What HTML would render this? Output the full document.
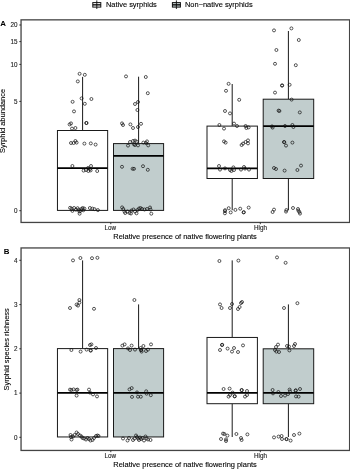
<!DOCTYPE html>
<html><head><meta charset="utf-8"><title>Figure</title>
<style>html,body{margin:0;padding:0;background:#fff}svg{display:block}</style></head>
<body>
<svg width="350" height="469" viewBox="0 0 350 469" font-family="'Liberation Sans', sans-serif">
<rect width="350" height="469" fill="#fff"/>
<line x1="82.6" y1="76.9" x2="82.6" y2="130.5" stroke="#1a1a1a" stroke-width="1"/><rect x="57.45" y="130.50" width="50.20" height="79.90" fill="#fff" stroke="#1a1a1a" stroke-width="1"/><line x1="57.45" y1="168.15" x2="107.65" y2="168.15" stroke="#000" stroke-width="1.8"/>
<line x1="138.6" y1="76.7" x2="138.6" y2="143.6" stroke="#1a1a1a" stroke-width="1"/><rect x="113.50" y="143.60" width="50.10" height="66.80" fill="#C1CDCD" stroke="#1a1a1a" stroke-width="1"/><line x1="113.50" y1="155.90" x2="163.60" y2="155.90" stroke="#000" stroke-width="1.8"/>
<line x1="232.2" y1="84.0" x2="232.2" y2="126.1" stroke="#1a1a1a" stroke-width="1"/><line x1="232.2" y1="178.5" x2="232.2" y2="210.2" stroke="#1a1a1a" stroke-width="1"/><rect x="207.00" y="126.10" width="50.40" height="52.40" fill="#fff" stroke="#1a1a1a" stroke-width="1"/><line x1="207.00" y1="168.30" x2="257.40" y2="168.30" stroke="#000" stroke-width="1.8"/>
<line x1="288.4" y1="31.0" x2="288.4" y2="99.2" stroke="#1a1a1a" stroke-width="1"/><line x1="288.4" y1="178.5" x2="288.4" y2="210.2" stroke="#1a1a1a" stroke-width="1"/><rect x="263.20" y="99.20" width="50.50" height="79.30" fill="#C1CDCD" stroke="#1a1a1a" stroke-width="1"/><line x1="263.20" y1="126.10" x2="313.70" y2="126.10" stroke="#000" stroke-width="1.8"/>
<g fill="none" stroke="#111" stroke-width="0.7"><circle cx="79.6" cy="73.8" r="1.5"/><circle cx="84.8" cy="74.8" r="1.5"/><circle cx="77.8" cy="81.4" r="1.5"/><circle cx="81.6" cy="98.4" r="1.5"/><circle cx="91.4" cy="99.0" r="1.5"/><circle cx="72.6" cy="101.8" r="1.5"/><circle cx="84.8" cy="103.8" r="1.5"/><circle cx="74.0" cy="111.4" r="1.5"/><circle cx="86.4" cy="123.0" r="1.5"/><circle cx="71.0" cy="123.4" r="1.5"/><circle cx="69.6" cy="124.4" r="1.5"/><circle cx="86.4" cy="123.0" r="1.5"/><circle cx="75.4" cy="128.0" r="1.5"/><circle cx="72.0" cy="128.6" r="1.5"/><circle cx="71.0" cy="143.0" r="1.5"/><circle cx="73.6" cy="143.0" r="1.5"/><circle cx="75.4" cy="141.0" r="1.5"/><circle cx="76.6" cy="142.6" r="1.5"/><circle cx="84.4" cy="143.6" r="1.5"/><circle cx="90.8" cy="143.4" r="1.5"/><circle cx="95.6" cy="144.6" r="1.5"/><circle cx="72.4" cy="166.0" r="1.5"/><circle cx="91.0" cy="166.0" r="1.5"/><circle cx="88.0" cy="168.0" r="1.5"/><circle cx="90.0" cy="169.0" r="1.5"/><circle cx="83.6" cy="170.6" r="1.5"/><circle cx="86.0" cy="170.0" r="1.5"/><circle cx="88.4" cy="171.0" r="1.5"/><circle cx="90.6" cy="170.4" r="1.5"/><circle cx="97.2" cy="171.0" r="1.5"/><circle cx="70.1" cy="207.8" r="1.5"/><circle cx="71.6" cy="208.6" r="1.5"/><circle cx="72.4" cy="210.9" r="1.5"/><circle cx="74.1" cy="208.0" r="1.5"/><circle cx="75.9" cy="209.7" r="1.5"/><circle cx="77.6" cy="208.2" r="1.5"/><circle cx="78.7" cy="209.7" r="1.5"/><circle cx="79.3" cy="211.4" r="1.5"/><circle cx="79.6" cy="213.7" r="1.5"/><circle cx="80.4" cy="210.9" r="1.5"/><circle cx="81.6" cy="208.9" r="1.5"/><circle cx="82.7" cy="208.0" r="1.5"/><circle cx="83.3" cy="210.3" r="1.5"/><circle cx="84.4" cy="208.6" r="1.5"/><circle cx="89.9" cy="208.0" r="1.5"/><circle cx="92.4" cy="208.6" r="1.5"/><circle cx="94.5" cy="209.1" r="1.5"/><circle cx="97.9" cy="210.1" r="1.5"/></g>
<g fill="none" stroke="#111" stroke-width="0.7"><circle cx="126.0" cy="76.4" r="1.5"/><circle cx="145.8" cy="77.0" r="1.5"/><circle cx="147.8" cy="93.2" r="1.5"/><circle cx="138.0" cy="102.0" r="1.5"/><circle cx="135.0" cy="104.0" r="1.5"/><circle cx="137.4" cy="110.0" r="1.5"/><circle cx="122.0" cy="123.4" r="1.5"/><circle cx="123.0" cy="125.0" r="1.5"/><circle cx="130.4" cy="124.4" r="1.5"/><circle cx="141.0" cy="123.8" r="1.5"/><circle cx="138.0" cy="127.0" r="1.5"/><circle cx="133.0" cy="128.0" r="1.5"/><circle cx="130.0" cy="142.0" r="1.5"/><circle cx="133.0" cy="141.0" r="1.5"/><circle cx="135.0" cy="140.6" r="1.5"/><circle cx="136.6" cy="141.6" r="1.5"/><circle cx="128.0" cy="145.6" r="1.5"/><circle cx="134.0" cy="144.4" r="1.5"/><circle cx="135.0" cy="145.0" r="1.5"/><circle cx="138.0" cy="145.4" r="1.5"/><circle cx="143.4" cy="142.6" r="1.5"/><circle cx="147.0" cy="141.4" r="1.5"/><circle cx="148.2" cy="145.4" r="1.5"/><circle cx="146.0" cy="143.0" r="1.5"/><circle cx="122.0" cy="166.8" r="1.5"/><circle cx="132.6" cy="168.8" r="1.5"/><circle cx="134.0" cy="168.8" r="1.5"/><circle cx="143.0" cy="166.2" r="1.5"/><circle cx="147.8" cy="169.8" r="1.5"/><circle cx="122.1" cy="207.4" r="1.5"/><circle cx="123.3" cy="209.0" r="1.5"/><circle cx="124.5" cy="211.5" r="1.5"/><circle cx="125.2" cy="213.0" r="1.5"/><circle cx="127.5" cy="211.5" r="1.5"/><circle cx="129.5" cy="213.0" r="1.5"/><circle cx="131.0" cy="213.5" r="1.5"/><circle cx="131.5" cy="210.5" r="1.5"/><circle cx="133.5" cy="209.5" r="1.5"/><circle cx="135.0" cy="211.5" r="1.5"/><circle cx="136.5" cy="213.3" r="1.5"/><circle cx="137.5" cy="210.0" r="1.5"/><circle cx="139.0" cy="208.5" r="1.5"/><circle cx="140.5" cy="208.0" r="1.5"/><circle cx="142.0" cy="209.0" r="1.5"/><circle cx="144.5" cy="209.5" r="1.5"/><circle cx="147.0" cy="209.0" r="1.5"/><circle cx="150.0" cy="207.5" r="1.5"/><circle cx="150.5" cy="209.5" r="1.5"/><circle cx="151.3" cy="213.7" r="1.5"/></g>
<g fill="none" stroke="#111" stroke-width="0.7"><circle cx="228.6" cy="83.8" r="1.5"/><circle cx="226.0" cy="90.8" r="1.5"/><circle cx="239.2" cy="99.8" r="1.5"/><circle cx="225.0" cy="111.0" r="1.5"/><circle cx="230.0" cy="113.4" r="1.5"/><circle cx="219.4" cy="125.0" r="1.5"/><circle cx="224.0" cy="128.6" r="1.5"/><circle cx="234.0" cy="123.6" r="1.5"/><circle cx="237.0" cy="126.0" r="1.5"/><circle cx="245.6" cy="126.0" r="1.5"/><circle cx="246.4" cy="128.0" r="1.5"/><circle cx="248.6" cy="127.4" r="1.5"/><circle cx="224.0" cy="141.4" r="1.5"/><circle cx="225.6" cy="142.6" r="1.5"/><circle cx="248.0" cy="140.4" r="1.5"/><circle cx="245.6" cy="142.0" r="1.5"/><circle cx="248.0" cy="143.4" r="1.5"/><circle cx="243.0" cy="143.6" r="1.5"/><circle cx="241.6" cy="145.0" r="1.5"/><circle cx="219.0" cy="166.0" r="1.5"/><circle cx="220.0" cy="169.6" r="1.5"/><circle cx="225.0" cy="168.4" r="1.5"/><circle cx="230.0" cy="170.0" r="1.5"/><circle cx="231.4" cy="171.0" r="1.5"/><circle cx="233.4" cy="167.4" r="1.5"/><circle cx="234.0" cy="170.0" r="1.5"/><circle cx="241.0" cy="169.6" r="1.5"/><circle cx="244.0" cy="167.0" r="1.5"/><circle cx="245.0" cy="168.6" r="1.5"/><circle cx="249.0" cy="169.6" r="1.5"/><circle cx="225.0" cy="210.2" r="1.5"/><circle cx="225.0" cy="211.2" r="1.5"/><circle cx="224.9" cy="213.3" r="1.5"/><circle cx="228.7" cy="208.2" r="1.5"/><circle cx="230.7" cy="212.4" r="1.5"/><circle cx="235.4" cy="209.9" r="1.5"/><circle cx="240.2" cy="208.7" r="1.5"/><circle cx="243.6" cy="212.4" r="1.5"/><circle cx="243.8" cy="212.2" r="1.5"/><circle cx="248.7" cy="207.6" r="1.5"/></g>
<g fill="none" stroke="#111" stroke-width="0.7"><circle cx="274.0" cy="30.4" r="1.5"/><circle cx="291.4" cy="28.4" r="1.5"/><circle cx="298.8" cy="40.0" r="1.5"/><circle cx="276.4" cy="50.0" r="1.5"/><circle cx="275.0" cy="63.8" r="1.5"/><circle cx="295.8" cy="65.2" r="1.5"/><circle cx="282.0" cy="85.6" r="1.5"/><circle cx="282.2" cy="85.4" r="1.5"/><circle cx="289.6" cy="84.8" r="1.5"/><circle cx="275.0" cy="92.6" r="1.5"/><circle cx="291.6" cy="99.6" r="1.5"/><circle cx="278.6" cy="110.6" r="1.5"/><circle cx="279.4" cy="111.0" r="1.5"/><circle cx="299.8" cy="112.4" r="1.5"/><circle cx="272.0" cy="126.4" r="1.5"/><circle cx="272.6" cy="127.6" r="1.5"/><circle cx="285.0" cy="126.0" r="1.5"/><circle cx="292.4" cy="125.0" r="1.5"/><circle cx="293.4" cy="127.0" r="1.5"/><circle cx="284.0" cy="142.0" r="1.5"/><circle cx="284.3" cy="142.2" r="1.5"/><circle cx="292.4" cy="142.6" r="1.5"/><circle cx="286.0" cy="145.6" r="1.5"/><circle cx="274.0" cy="168.0" r="1.5"/><circle cx="276.0" cy="169.0" r="1.5"/><circle cx="284.6" cy="170.6" r="1.5"/><circle cx="297.4" cy="170.0" r="1.5"/><circle cx="301.0" cy="165.6" r="1.5"/><circle cx="274.0" cy="209.6" r="1.5"/><circle cx="272.6" cy="212.0" r="1.5"/><circle cx="286.4" cy="210.0" r="1.5"/><circle cx="286.0" cy="211.6" r="1.5"/><circle cx="293.0" cy="208.0" r="1.5"/><circle cx="298.0" cy="209.0" r="1.5"/><circle cx="298.4" cy="210.6" r="1.5"/><circle cx="299.4" cy="212.0" r="1.5"/><circle cx="300.0" cy="213.6" r="1.5"/></g>
<line x1="82.6" y1="260.4" x2="82.6" y2="348.6" stroke="#1a1a1a" stroke-width="1"/><rect x="57.45" y="348.60" width="50.20" height="88.35" fill="#fff" stroke="#1a1a1a" stroke-width="1"/><line x1="57.45" y1="392.95" x2="107.65" y2="392.95" stroke="#000" stroke-width="1.8"/>
<line x1="138.6" y1="304.4" x2="138.6" y2="348.6" stroke="#1a1a1a" stroke-width="1"/><rect x="113.50" y="348.60" width="50.10" height="88.35" fill="#C1CDCD" stroke="#1a1a1a" stroke-width="1"/><line x1="113.50" y1="392.95" x2="163.60" y2="392.95" stroke="#000" stroke-width="1.8"/>
<line x1="232.2" y1="260.4" x2="232.2" y2="337.4" stroke="#1a1a1a" stroke-width="1"/><line x1="232.2" y1="403.7" x2="232.2" y2="437.0" stroke="#1a1a1a" stroke-width="1"/><rect x="207.00" y="337.45" width="50.40" height="66.25" fill="#fff" stroke="#1a1a1a" stroke-width="1"/><line x1="207.00" y1="392.95" x2="257.40" y2="392.95" stroke="#000" stroke-width="1.8"/>
<line x1="288.4" y1="304.4" x2="288.4" y2="348.8" stroke="#1a1a1a" stroke-width="1"/><line x1="288.4" y1="403.7" x2="288.4" y2="437.0" stroke="#1a1a1a" stroke-width="1"/><rect x="263.20" y="348.80" width="50.50" height="54.90" fill="#C1CDCD" stroke="#1a1a1a" stroke-width="1"/><line x1="263.20" y1="392.95" x2="313.70" y2="392.95" stroke="#000" stroke-width="1.8"/>
<g fill="none" stroke="#111" stroke-width="0.7"><circle cx="73.0" cy="260.4" r="1.5"/><circle cx="80.4" cy="258.0" r="1.5"/><circle cx="92.0" cy="258.2" r="1.5"/><circle cx="97.4" cy="257.8" r="1.5"/><circle cx="79.4" cy="300.0" r="1.5"/><circle cx="79.4" cy="302.6" r="1.5"/><circle cx="76.6" cy="304.6" r="1.5"/><circle cx="78.0" cy="305.6" r="1.5"/><circle cx="70.0" cy="308.0" r="1.5"/><circle cx="94.0" cy="308.8" r="1.5"/><circle cx="71.4" cy="350.0" r="1.5"/><circle cx="80.6" cy="351.6" r="1.5"/><circle cx="86.6" cy="349.6" r="1.5"/><circle cx="90.6" cy="350.6" r="1.5"/><circle cx="90.8" cy="350.4" r="1.5"/><circle cx="90.0" cy="345.0" r="1.5"/><circle cx="91.4" cy="344.4" r="1.5"/><circle cx="96.0" cy="348.0" r="1.5"/><circle cx="70.0" cy="389.6" r="1.5"/><circle cx="71.4" cy="390.0" r="1.5"/><circle cx="73.6" cy="389.4" r="1.5"/><circle cx="76.6" cy="390.0" r="1.5"/><circle cx="77.4" cy="389.6" r="1.5"/><circle cx="89.0" cy="389.6" r="1.5"/><circle cx="76.6" cy="395.6" r="1.5"/><circle cx="90.0" cy="392.6" r="1.5"/><circle cx="93.0" cy="394.4" r="1.5"/><circle cx="97.0" cy="396.4" r="1.5"/><circle cx="70.5" cy="435.0" r="1.5"/><circle cx="71.0" cy="437.0" r="1.5"/><circle cx="71.5" cy="439.5" r="1.5"/><circle cx="73.0" cy="436.5" r="1.5"/><circle cx="74.5" cy="435.0" r="1.5"/><circle cx="76.6" cy="432.5" r="1.5"/><circle cx="78.0" cy="434.0" r="1.5"/><circle cx="80.0" cy="435.5" r="1.5"/><circle cx="81.5" cy="436.5" r="1.5"/><circle cx="82.5" cy="438.0" r="1.5"/><circle cx="84.0" cy="438.5" r="1.5"/><circle cx="86.0" cy="439.5" r="1.5"/><circle cx="87.5" cy="438.0" r="1.5"/><circle cx="89.0" cy="439.0" r="1.5"/><circle cx="90.5" cy="440.5" r="1.5"/><circle cx="92.5" cy="440.0" r="1.5"/><circle cx="94.0" cy="438.0" r="1.5"/><circle cx="96.0" cy="436.0" r="1.5"/><circle cx="97.5" cy="435.5" r="1.5"/><circle cx="98.5" cy="436.0" r="1.5"/></g>
<g fill="none" stroke="#111" stroke-width="0.7"><circle cx="134.4" cy="300.0" r="1.5"/><circle cx="122.4" cy="345.6" r="1.5"/><circle cx="124.6" cy="344.4" r="1.5"/><circle cx="131.6" cy="345.6" r="1.5"/><circle cx="128.0" cy="348.4" r="1.5"/><circle cx="130.0" cy="350.0" r="1.5"/><circle cx="135.0" cy="349.6" r="1.5"/><circle cx="140.6" cy="348.0" r="1.5"/><circle cx="141.0" cy="350.0" r="1.5"/><circle cx="141.2" cy="350.2" r="1.5"/><circle cx="141.6" cy="351.6" r="1.5"/><circle cx="143.4" cy="346.0" r="1.5"/><circle cx="151.0" cy="344.4" r="1.5"/><circle cx="148.0" cy="349.6" r="1.5"/><circle cx="146.0" cy="351.0" r="1.5"/><circle cx="129.5" cy="389.4" r="1.5"/><circle cx="131.7" cy="388.1" r="1.5"/><circle cx="137.0" cy="392.4" r="1.5"/><circle cx="132.0" cy="396.9" r="1.5"/><circle cx="138.0" cy="396.7" r="1.5"/><circle cx="140.8" cy="396.7" r="1.5"/><circle cx="146.2" cy="391.3" r="1.5"/><circle cx="146.6" cy="393.7" r="1.5"/><circle cx="150.8" cy="395.2" r="1.5"/><circle cx="123.0" cy="438.5" r="1.5"/><circle cx="127.5" cy="440.5" r="1.5"/><circle cx="129.0" cy="438.0" r="1.5"/><circle cx="133.0" cy="440.0" r="1.5"/><circle cx="134.5" cy="438.5" r="1.5"/><circle cx="136.0" cy="435.5" r="1.5"/><circle cx="137.0" cy="437.0" r="1.5"/><circle cx="138.0" cy="438.5" r="1.5"/><circle cx="139.0" cy="440.0" r="1.5"/><circle cx="140.0" cy="437.5" r="1.5"/><circle cx="141.0" cy="439.0" r="1.5"/><circle cx="142.5" cy="438.0" r="1.5"/><circle cx="144.0" cy="440.5" r="1.5"/><circle cx="145.5" cy="436.5" r="1.5"/><circle cx="146.5" cy="438.5" r="1.5"/><circle cx="148.0" cy="439.5" r="1.5"/><circle cx="150.5" cy="440.0" r="1.5"/></g>
<g fill="none" stroke="#111" stroke-width="0.7"><circle cx="219.4" cy="261.0" r="1.5"/><circle cx="238.4" cy="260.6" r="1.5"/><circle cx="220.0" cy="304.4" r="1.5"/><circle cx="221.6" cy="308.0" r="1.5"/><circle cx="232.0" cy="304.0" r="1.5"/><circle cx="230.0" cy="308.0" r="1.5"/><circle cx="241.0" cy="303.0" r="1.5"/><circle cx="242.0" cy="302.0" r="1.5"/><circle cx="239.6" cy="307.0" r="1.5"/><circle cx="238.0" cy="309.0" r="1.5"/><circle cx="222.0" cy="345.0" r="1.5"/><circle cx="222.2" cy="344.8" r="1.5"/><circle cx="220.0" cy="350.0" r="1.5"/><circle cx="227.6" cy="348.6" r="1.5"/><circle cx="234.0" cy="348.0" r="1.5"/><circle cx="232.0" cy="351.6" r="1.5"/><circle cx="238.0" cy="352.0" r="1.5"/><circle cx="243.0" cy="345.4" r="1.5"/><circle cx="223.6" cy="389.0" r="1.5"/><circle cx="229.6" cy="388.6" r="1.5"/><circle cx="232.6" cy="392.6" r="1.5"/><circle cx="241.6" cy="390.0" r="1.5"/><circle cx="241.8" cy="390.2" r="1.5"/><circle cx="247.0" cy="391.0" r="1.5"/><circle cx="228.6" cy="396.6" r="1.5"/><circle cx="230.0" cy="395.0" r="1.5"/><circle cx="234.6" cy="396.4" r="1.5"/><circle cx="234.8" cy="396.2" r="1.5"/><circle cx="245.0" cy="396.6" r="1.5"/><circle cx="247.0" cy="395.0" r="1.5"/><circle cx="223.0" cy="433.6" r="1.5"/><circle cx="224.4" cy="434.0" r="1.5"/><circle cx="227.4" cy="435.6" r="1.5"/><circle cx="221.0" cy="439.0" r="1.5"/><circle cx="226.0" cy="439.4" r="1.5"/><circle cx="226.0" cy="441.0" r="1.5"/><circle cx="236.4" cy="434.0" r="1.5"/><circle cx="241.0" cy="438.0" r="1.5"/><circle cx="241.6" cy="440.0" r="1.5"/><circle cx="247.4" cy="434.4" r="1.5"/></g>
<g fill="none" stroke="#111" stroke-width="0.7"><circle cx="277.0" cy="257.4" r="1.5"/><circle cx="285.6" cy="262.8" r="1.5"/><circle cx="297.4" cy="303.2" r="1.5"/><circle cx="284.0" cy="308.0" r="1.5"/><circle cx="278.0" cy="344.6" r="1.5"/><circle cx="276.0" cy="347.0" r="1.5"/><circle cx="275.0" cy="350.0" r="1.5"/><circle cx="276.4" cy="351.6" r="1.5"/><circle cx="279.0" cy="352.0" r="1.5"/><circle cx="287.0" cy="346.0" r="1.5"/><circle cx="289.0" cy="346.6" r="1.5"/><circle cx="289.4" cy="350.4" r="1.5"/><circle cx="295.0" cy="344.0" r="1.5"/><circle cx="294.0" cy="346.0" r="1.5"/><circle cx="272.6" cy="390.0" r="1.5"/><circle cx="273.0" cy="393.4" r="1.5"/><circle cx="278.4" cy="392.0" r="1.5"/><circle cx="281.0" cy="396.0" r="1.5"/><circle cx="285.0" cy="395.6" r="1.5"/><circle cx="288.0" cy="394.0" r="1.5"/><circle cx="289.6" cy="389.6" r="1.5"/><circle cx="290.0" cy="391.4" r="1.5"/><circle cx="295.6" cy="390.6" r="1.5"/><circle cx="295.8" cy="390.4" r="1.5"/><circle cx="300.0" cy="389.0" r="1.5"/><circle cx="296.0" cy="396.4" r="1.5"/><circle cx="298.6" cy="396.6" r="1.5"/><circle cx="274.0" cy="437.4" r="1.5"/><circle cx="278.6" cy="436.6" r="1.5"/><circle cx="281.6" cy="436.0" r="1.5"/><circle cx="282.0" cy="439.0" r="1.5"/><circle cx="286.4" cy="439.0" r="1.5"/><circle cx="286.6" cy="439.2" r="1.5"/><circle cx="290.6" cy="440.6" r="1.5"/><circle cx="294.0" cy="435.0" r="1.5"/><circle cx="299.4" cy="433.6" r="1.5"/></g>
<rect x="21.05" y="19.85" width="328.55" height="202.60" fill="none" stroke="#444" stroke-width="1.3"/>
<rect x="21.05" y="247.95" width="328.55" height="202.50" fill="none" stroke="#444" stroke-width="1.3"/>
<g stroke="#222" stroke-width="0.9">
<line x1="19.3" y1="210.7" x2="21.05" y2="210.7"/>
<line x1="19.3" y1="101.4" x2="21.05" y2="101.4"/>
<line x1="19.3" y1="64.4" x2="21.05" y2="64.4"/>
<line x1="19.3" y1="41.6" x2="21.05" y2="41.6"/>
<line x1="19.3" y1="25.0" x2="21.05" y2="25.0"/>
<line x1="19.3" y1="437.3" x2="21.05" y2="437.3"/>
<line x1="19.3" y1="393.1" x2="21.05" y2="393.1"/>
<line x1="19.3" y1="348.8" x2="21.05" y2="348.8"/>
<line x1="19.3" y1="304.6" x2="21.05" y2="304.6"/>
<line x1="19.3" y1="260.3" x2="21.05" y2="260.3"/>
<line x1="110.8" y1="222.45" x2="110.8" y2="224.2"/>
<line x1="260.3" y1="222.45" x2="260.3" y2="224.2"/>
<line x1="110.8" y1="450.45" x2="110.8" y2="452.2"/>
<line x1="260.3" y1="450.45" x2="260.3" y2="452.2"/>
</g>
<g font-size="6.3" fill="#222" stroke="#222" stroke-width="0.12">
<text x="17.5" y="212.9" text-anchor="end">0</text>
<text x="17.5" y="103.6" text-anchor="end">5</text>
<text x="17.5" y="66.6" text-anchor="end">10</text>
<text x="17.5" y="43.8" text-anchor="end">15</text>
<text x="17.5" y="27.2" text-anchor="end">20</text>
<text x="17.5" y="439.5" text-anchor="end">0</text>
<text x="17.5" y="395.2" text-anchor="end">1</text>
<text x="17.5" y="351.0" text-anchor="end">2</text>
<text x="17.5" y="306.8" text-anchor="end">3</text>
<text x="17.5" y="262.5" text-anchor="end">4</text>
<text x="110.2" y="230.4" text-anchor="middle">Low</text>
<text x="260.5" y="230.4" text-anchor="middle">High</text>
<text x="110.2" y="458.4" text-anchor="middle">Low</text>
<text x="260.5" y="458.4" text-anchor="middle">High</text>
</g>
<g font-size="7.45" fill="#000" stroke="#000" stroke-width="0.1">
<text x="185.1" y="239.0" text-anchor="middle">Relative presence of native flowering plants</text>
<text x="185.1" y="467.1" text-anchor="middle">Relative presence of native flowering plants</text>
<text transform="translate(5.3,121) rotate(-90)" text-anchor="middle">Syrphid abundance</text>
<text transform="translate(8.6,349.4) rotate(-90)" text-anchor="middle">Syrphid species richness</text>
<text x="106" y="6.9">Native syrphids</text>
<text x="185.0" y="6.9">Non−native syrphids</text>
</g>
<g font-size="7.9" font-weight="bold" fill="#000"><text x="0.3" y="25.8">A</text><text x="3.7" y="253.8">B</text></g>
<rect x="92.8" y="2.6" width="8" height="4.5" fill="#fff" stroke="#111" stroke-width="1"/><line x1="96.8" y1="0.4" x2="96.8" y2="9.0" stroke="#111" stroke-width="0.9"/><line x1="92.8" y1="4.85" x2="100.8" y2="4.85" stroke="#000" stroke-width="1.3"/>
<rect x="172.4" y="2.6" width="8" height="4.5" fill="#C1CDCD" stroke="#111" stroke-width="1"/><line x1="176.4" y1="0.4" x2="176.4" y2="9.0" stroke="#111" stroke-width="0.9"/><line x1="172.4" y1="4.85" x2="180.4" y2="4.85" stroke="#000" stroke-width="1.3"/>
</svg>
</body></html>
